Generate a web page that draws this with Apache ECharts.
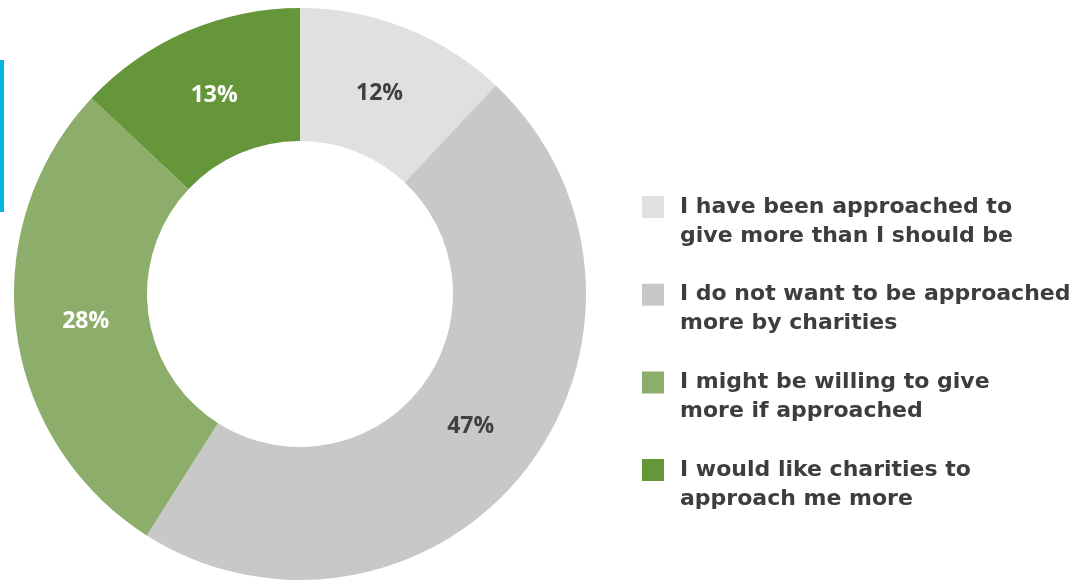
<!DOCTYPE html>
<html>
<head>
<meta charset="utf-8">
<script src="https://cdn.jsdelivr.net/npm/echarts@6/dist/echarts.min.js"></script>
<style>
  html, body { margin: 0; padding: 0; background: #ffffff; }
  #chart { width: 1085px; height: 580px; }
</style>
</head>
<body>
<div id="chart"></div>
<script>
// Survey answers, in clockwise order from 12 o'clock
const categories = [
  'I have been approached to\ngive more than I should be',
  'I do not want to be approached\nmore by charities',
  'I might be willing to give\nmore if approached',
  'I would like charities to\napproach me more'
];
const shares = [12, 47, 28, 13];
const sliceColors = ['#e0e0e0', '#c7c8c7', '#8dae6b', '#66963a'];
const labelColors = ['#404040', '#404040', '#ffffff', '#ffffff'];

const LABEL_FONT = '"Open Sans", "DejaVu Sans", sans-serif';
const LEGEND_FONT = '"DejaVu Sans", "Open Sans", sans-serif';

const sliceData = categories.map((name, i) => ({
  name: name,
  value: shares[i],
  itemStyle: { color: sliceColors[i] }
}));

const labelData = categories.map((name, i) => ({
  name: name,
  value: shares[i],
  label: { color: labelColors[i] }
}));

const chart = echarts.init(document.getElementById('chart'), null, { renderer: 'canvas' });

chart.setOption({
  backgroundColor: '#ffffff',
  animation: false,
  legend: {
    orient: 'vertical',
    left: 642,
    top: 163.5,
    padding: 0,
    // 22px swatch followed by empty space that widens the gap before the text
    icon: 'path://M0,0h22v22h-22zM33,0',
    itemWidth: 33,
    itemHeight: 22,
    itemGap: 0.7,
    itemStyle: { borderWidth: 0 },
    selectedMode: false,
    data: categories,
    // a blank first line keeps the first line of each name level with its swatch
    formatter: name => '\n' + name,
    textStyle: {
      fontFamily: LEGEND_FONT,
      fontWeight: 'bold',
      fontSize: 22,
      lineHeight: 29,
      color: '#3d3d3d'
    }
  },
  graphic: [{
    type: 'rect',
    left: 0,
    top: 60,
    shape: { width: 4, height: 152 },
    style: { fill: '#00b5e2' },
    silent: true
  }],
  series: [
    {
      type: 'pie',
      center: [300, 294],
      radius: [153, 286],
      startAngle: 90,
      clockwise: true,
      silent: true,
      label: { show: false },
      labelLine: { show: false },
      itemStyle: { borderWidth: 0 },
      data: sliceData
    },
    {
      // transparent ring that only carries the percentage labels
      type: 'pie',
      center: [300, 294],
      radius: [153, 273],
      startAngle: 90,
      clockwise: true,
      silent: true,
      legendHoverLink: false,
      itemStyle: { color: 'rgba(0,0,0,0)' },
      label: {
        show: true,
        position: 'inside',
        formatter: '{c}%',
        fontFamily: LABEL_FONT,
        fontWeight: 'bold',
        fontSize: 23
      },
      labelLine: { show: false },
      data: labelData
    }
  ]
});
</script>
</body>
</html>
